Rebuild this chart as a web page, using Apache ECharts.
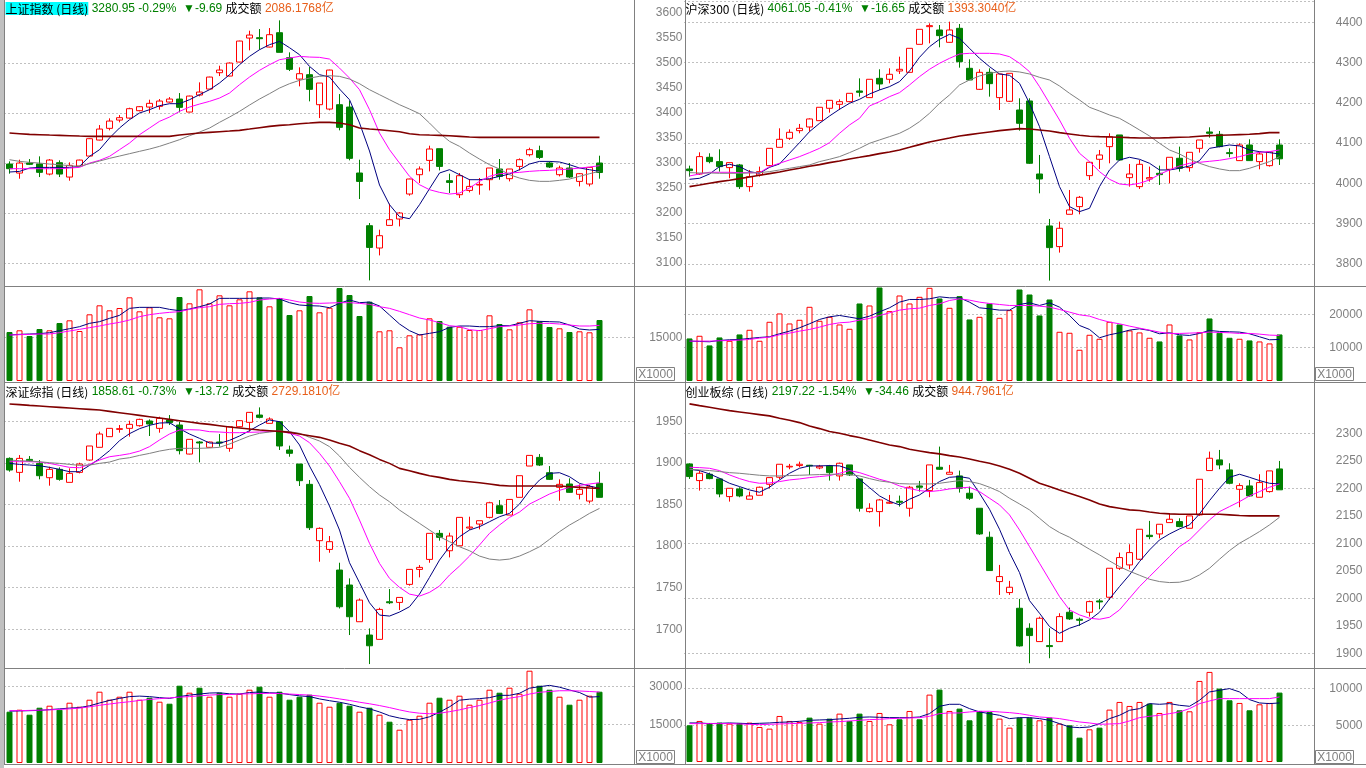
<!DOCTYPE html>
<html lang="zh-CN">
<head>
<meta charset="utf-8">
<title>指数日线</title>
<script src="https://cdn.jsdelivr.net/npm/echarts@6.0.0/dist/echarts.min.js"></script>
<style>
  html, body { margin: 0; padding: 0; background: #fff; }
  #main { width: 1366px; height: 768px; }
</style>
</head>
<body>
<div id="main"></div>
<script>
// 63 day slots per panel, the last 3 stay empty
const days = Array.from({ length: 63 }, (_, i) => 'D' + (i + 1));

// candles: [open, close, low, high]
const shK = [[3297.9,3288.6,3278.6,3303.3],[3279.9,3299.9,3268.6,3306.6],[3299.9,3297.3,3295.9,3307.9],[3297.9,3281.3,3271.9,3313.3],[3277.9,3305.9,3275.3,3307.9],[3300.6,3277.9,3271.9,3305.3],[3271.9,3295.3,3264.6,3301.3],[3293.9,3305.9,3293.3,3306.6],[3313.9,3348.6,3313.3,3349.3],[3345.9,3367.9,3345.3,3375.9],
  [3369.3,3383.9,3365.3,3389.3],[3385.9,3390.6,3381.3,3395.9],[3389.9,3408.6,3388.6,3410.6],[3404.6,3412.6,3403.3,3413.9],[3411.9,3419.3,3399.9,3426.6],[3413.3,3423.9,3406.6,3427.9],[3421.9,3427.9,3420.6,3431.9],[3427.9,3411.3,3401.3,3439.9],[3401.9,3433.9,3401.3,3434.6],[3435.9,3441.9,3433.3,3461.3],
  [3447.9,3471.9,3447.9,3472.6],[3480.6,3485.9,3473.9,3494.6],[3473.9,3499.9,3473.3,3501.3],[3501.9,3543.9,3501.3,3544.6],[3549.9,3555.9,3525.3,3564.6],[3550.6,3548.6,3526.6,3567.9],[3531.9,3556.6,3531.3,3569.9],[3560.6,3521.3,3521.3,3585.3],[3510.6,3487.3,3483.9,3521.3],[3467.9,3478.6,3453.3,3491.3],
  [3476.6,3447.3,3423.3,3491.9],[3416.6,3459.9,3389.9,3459.9],[3407.9,3485.9,3405.3,3486.6],[3416.6,3371.3,3365.3,3437.9],[3411.9,3309.3,3305.3,3424.6],[3280,3263.2,3228,3306.6],[3174.6,3131.2,3065.2,3180],[3130,3154.6,3115.2,3166.6],[3175.2,3186.6,3175.2,3218.6],[3188,3200,3173.2,3202],
  [3238,3268,3234.6,3268.6],[3276.6,3288,3260,3293.2],[3305.2,3328,3283.2,3334.6],[3328.6,3293.2,3285.2,3328.6],[3264.6,3261.2,3240,3278.6],[3236.6,3274.6,3230,3280],[3245.2,3253.2,3241.2,3268],[3256,3257.2,3236.6,3270],[3266.6,3290,3245.2,3290],[3288,3273.2,3266.6,3308],
  [3268.6,3288,3263.2,3288],[3293.2,3306.6,3285.2,3309.2],[3316.6,3326.6,3313.2,3330.6],[3324.6,3311.2,3308,3334.6],[3300,3292,3290,3303.2],[3276.6,3290,3273.2,3294.6],[3290,3272,3270,3300],[3263.2,3278.6,3253.2,3280],[3258,3291.2,3253.2,3291.2],[3300,3280.95,3268.6,3314.6]];
const shMa5 = [3282,3283.2,3290,3291.2,3291.2,3291.2,3291.2,3293.2,3313.2,3326.6,3350,3370,3386.6,3400,3406.6,3414.6,3418.6,3418.6,3426.6,3436.6,3446.6,3460,3476.6,3496.6,3513.2,3526.6,3536.6,3543.2,3530.6,3516.6,3493.2,3476.6,3472,3448,3426.6,3380,3324,3256,3216.6,3192.6,3188.6,3216.6,3248.6,3280,3286.6,3276.6,3266.6,3266.6,3268.6,3273.2,3278,3286.6,3298,3303.2,3303.2,3302,3296.6,3290,3286.6,3283.2];
const shMa10 = [3288.6,3288.6,3288.6,3288.6,3288.6,3288.6,3289.9,3291.3,3299.9,3305.3,3313.3,3326.6,3339.9,3356.6,3369.9,3383.3,3391.9,3403.3,3411.9,3417.9,3423.3,3429.9,3439.9,3456.6,3471.9,3485.3,3496.6,3506.6,3509.9,3513.3,3511.9,3511.3,3507.9,3489.9,3469.9,3446.6,3406.6,3359.9,3326.6,3299.9,3273.3,3256.6,3246.6,3241.3,3237.9,3239.9,3249.9,3263.3,3273.3,3278.6,3279.9,3281.3,3283.3,3284.6,3285.3,3286.6,3287.9,3289.9,3291.9,3294.6];
const shMa20 = [3306.6,3303.3,3301.3,3299.9,3297.9,3296.6,3294.6,3293.3,3298.6,3303.9,3309.3,3313.9,3318.6,3323.3,3327.9,3333.3,3339.9,3346.6,3354.6,3361.9,3369.9,3381.3,3391.9,3403.3,3415.9,3427.9,3438.6,3449.9,3458.6,3465.3,3469.9,3473.3,3474.6,3473.3,3467.9,3458.6,3446.6,3436.6,3426.6,3416.6,3407.9,3398.6,3379.9,3359.9,3343.3,3333.3,3319.9,3307.9,3296.6,3287.9,3276.6,3269.9,3265.3,3263.3,3263.3,3265.3,3267.9,3273.3,3278.6,3283.3];
const shMa60 = [3359.9,3358.6,3357.3,3356.6,3355.9,3355.3,3354.6,3353.9,3353.3,3353.3,3353.3,3353.3,3353.3,3353.3,3353.3,3353.3,3353.3,3355.9,3357.9,3359.9,3361.3,3362.6,3363.9,3365.3,3367.9,3370.6,3373.3,3375.3,3376.6,3378.6,3379.9,3381.3,3381.3,3379.9,3376.6,3369.9,3367.9,3366.6,3364.6,3362.6,3358.6,3356.6,3355.9,3355.3,3354.6,3353.3,3351.9,3351.3,3351.3,3351.3,3351.3,3351.3,3351.3,3351.3,3351.3,3351.3,3351.3,3351.3,3351.3,3351.3];
const shVol = [16817,17400,15444,17846,17400,19906,20832,17160,22891,25980,24264,25054,28726,23921,25294,21862,21519,28829,26667,31471,26667,29412,25980,28039,30785,28726,25637,28486,22651,24264,29172,23578,25157,31918,29515,22308,27216,17057,17400,11566,15684,16027,21519,20592,18636,18636,17503,17503,22548,19562,17743,20146,24607,20489,18533,18087,16817,17057,16714,20935];
const shVma5 = [15787,16016,16130,16244,16588,17274,17961,18647,19791,20363,21507,22537,24939,25283,25283,25283,24596,24138,24710,25511,26426,28371,28371,28371,28371,28486,28486,28142,26884,26083,25855,25740,25168,26655,27799,26884,27113,25740,22651,19562,17274,15787,16359,16931,18418,18876,18876,18647,18647,18990,18990,19791,20706,20477,20363,20249,19219,17846,17503,17732];
const shVma10 = [15787,15901,16016,16130,16130,16588,17160,17732,18304,18876,19562,20134,20935,22079,22766,23223,23566,23795,24596,25168,25511,26312,26541,26655,26998,27799,28142,28371,27799,27113,26770,26655,26770,26884,26884,26655,26312,25511,24939,23909,22766,21621,20935,20020,18990,18647,17617,17274,17961,18647,18876,19219,19677,19791,19791,19562,19219,18876,18876,19104];

const hsK = [[4035.8,4031.7,4016.8,4044.1],[4023.4,4066.5,4021,4077.2],[4064.8,4054.1,4049.9,4074.8],[4054.1,4041.7,4029.2,4084.7],[4039.2,4051.6,4012.7,4051.6],[4045.8,3992,3986.2,4048.3],[3992,4016.8,3979.6,4033.4],[4021,4029.2,4016.8,4041.7],[4044.1,4087.1,4043.3,4087.1],[4089.6,4109.5,4089.6,4136.8],
  [4112,4126.9,4107.9,4134.3],[4131,4136.8,4124.4,4147.6],[4140.1,4160,4128.5,4161.6],[4155.8,4189,4155,4189],[4186.5,4206.3,4175.7,4207.1],[4196.4,4203,4182.3,4208.8],[4203,4223.7,4201.4,4223.7],[4229.5,4226.2,4215.4,4260.9],[4213,4258.5,4213,4258.5],[4260.9,4246.9,4232,4283.3],
  [4258.5,4270.9,4248.5,4285.8],[4279.1,4283.3,4271.7,4314.7],[4275.8,4335.4,4275,4335.4],[4345.3,4382.6,4345.3,4382.6],[4389.2,4391.7,4347.8,4397.5],[4380.9,4366.9,4337.9,4393.3],[4350.3,4380.9,4349.5,4401.6],[4385.1,4302.3,4287.4,4395.8],[4285.8,4256.8,4256.8,4308.1],[4233.6,4275.8,4232,4283.3],
  [4275.8,4247.7,4215.4,4285.8],[4213,4271.7,4182.3,4271.7],[4203.9,4273.3,4202.2,4273.3],[4182.3,4149.2,4131,4211.3],[4204.7,4050,4048.3,4211.3],[4023.4,4011,3975.4,4070.6],[3894.4,3840.6,3758.6,3911.7],[3843.1,3888.6,3828.2,3905.1],[3923.3,3934.1,3923.3,3983.7],[3942.4,3965.5,3923.3,3968.8],
  [4019.3,4052.4,4008.5,4054.1],[4059.9,4070.6,4035.8,4083],[4091.3,4116.1,4049.9,4124.4],[4120.3,4058.2,4056.6,4120.3],[4014.3,4023.4,3992,4048.3],[3992,4047.4,3986.2,4058.2],[4011,4014.3,4004.4,4041.7],[4025.1,4021.8,3996.1,4044.1],[4035,4064.8,4000.3,4064.8],[4062.4,4037.5,4029.2,4091.3],
  [4039.2,4077.2,4029.2,4077.2],[4087.1,4107.8,4076.4,4107.8],[4127.7,4124.4,4113.6,4139.3],[4121.9,4091.3,4089.6,4130.2],[4076.4,4074,4064.8,4087.1],[4056.6,4095.4,4055.7,4099.6],[4095.4,4056.6,4055.7,4109.5],[4054.1,4073.1,4035,4078.9],[4044.1,4078.1,4041.7,4078.9],[4095.4,4061.05,4045.8,4109.5]];
const hsMa5 = [4010.2,4012.7,4023.4,4041.7,4047.4,4041.7,4029.2,4025.1,4040,4048.3,4074.8,4101.2,4128.5,4149.2,4167.4,4184,4198.9,4208.8,4222,4232,4240.3,4252.7,4279.1,4313.1,4339.5,4357.8,4370.2,4360.2,4335.4,4310.6,4289.9,4271.7,4268.4,4248.5,4198.9,4141,4066.5,3992,3942.4,3929.9,3938.2,3992,4033.4,4058.2,4064.8,4059.9,4050,4033.4,4033.4,4037.5,4043.3,4056.6,4087.1,4091.3,4095.4,4093,4083,4078.9,4076.4,4073.1];
const hsMa10 = [4018.5,4023.4,4027.6,4027.6,4027.6,4026.7,4026.7,4026.7,4041.7,4050,4058.2,4066.5,4076.4,4087.1,4101.2,4124.4,4145.1,4161.6,4192.3,4203,4215.4,4225.4,4244.4,4265.1,4283.3,4298.2,4310.6,4321.3,4323,4323,4323,4321.3,4314.7,4298.2,4277.5,4240.3,4198.9,4157.5,4112,4074.8,4054.1,4029.2,4010.2,3998.6,3996.1,4000.3,4008.5,4022.6,4033.4,4043.3,4050,4052.4,4054.9,4057.4,4061.5,4066.5,4073.1,4077.2,4078.9,4083];
const hsMa20 = [4026.7,4025.9,4025.9,4025.1,4025.1,4025.1,4025.9,4026.7,4029.2,4033.4,4037.5,4041.7,4045.8,4054.1,4059.9,4066.5,4076.4,4087.1,4099.6,4107.9,4116.1,4124.4,4136.8,4153.4,4174.1,4198.9,4219.6,4244.4,4256.8,4266.7,4273.4,4277.5,4279.1,4276.7,4271.7,4263.4,4256.8,4241.9,4223.7,4207.1,4189,4179.8,4169.9,4161.6,4147.6,4132.7,4117.8,4099.6,4083,4073.1,4059.9,4050,4041.7,4035.9,4031.7,4031.7,4037.5,4045.8,4054.1,4066.5];
const hsMa60 = [3992,3996.1,4000.3,4004.4,4007.7,4011.9,4016,4020.1,4024.3,4028.4,4033.4,4037.5,4042.5,4046.6,4051.6,4055.7,4060.7,4064.8,4069,4073.9,4078.1,4083,4089.6,4096.3,4102.9,4107.9,4112.8,4117.8,4121.1,4124.4,4127.7,4131,4133.5,4136,4135.2,4132.7,4130.2,4126.1,4122.8,4119.4,4117,4116.1,4115.3,4114.5,4113.6,4112.8,4112.8,4112.8,4113.6,4114.5,4115.3,4117,4118.6,4119.4,4120.3,4121.1,4121.9,4123.6,4126.1,4126.1];
const hsVol = [12780,13580,10680,13080,12080,13980,15380,12080,17780,20280,17280,18380,22280,18080,19280,16980,15680,23280,22680,28080,20980,25680,23280,25280,27980,24780,21980,25480,18480,19280,23280,18980,21280,27480,25980,19680,24480,14780,14480,9380,13880,12680,17780,16980,15180,14580,12980,11880,16980,13680,12480,14680,18780,14480,12980,12680,12180,11880,11280,13980];
const hsVma5 = [11980,11880,11780,12180,12380,12480,12780,13080,13280,14180,14980,15980,17180,18480,19280,19680,19180,18680,19480,20780,21980,23680,24480,24480,24680,25280,24980,24980,23680,21980,21680,21280,21280,22980,23480,22680,23480,22180,19680,16680,15480,12980,13880,14480,15280,15680,15180,14180,14480,13880,13680,14280,15180,14880,14780,14680,14180,13280,12380,12480];
const hsVma10 = [11980,11980,11980,12080,12180,12280,12480,12880,13180,13880,14380,14980,15480,16180,16980,17480,17680,18280,18780,19680,20480,21280,21680,21880,22680,23180,24180,24680,24280,23680,23280,22980,22680,22680,22680,22480,22180,21480,20680,19880,19480,18480,17680,17180,16480,15880,15280,14680,14280,14280,14380,14480,14680,14580,14480,14280,14280,14080,13780,13680];

const szK = [[1905.4,1891.4,1889.4,1906.6],[1888.6,1905.4,1877.4,1909.4],[1904.2,1902.6,1901.4,1908.2],[1899.4,1884.6,1880.2,1903.4],[1882.2,1892.2,1872.6,1895.4],[1892.2,1880.2,1878.6,1894.6],[1876.6,1887.4,1876.6,1893.4],[1888.6,1898.6,1887.4,1900.2],[1903.4,1920.3,1902.6,1920.3],[1918.7,1934.7,1918.7,1937.5],
  [1931.5,1941.5,1931.5,1941.5],[1940.3,1941.1,1936.3,1945.5],[1941.5,1946.3,1931.5,1950.7],[1944.7,1952.3,1943.5,1953.1],[1950.3,1946.7,1932.3,1952.3],[1941.5,1953.5,1936.3,1955.5],[1951.5,1948.3,1945.5,1957.5],[1945.5,1914.7,1910.2,1949.5],[1910.6,1928.3,1910.2,1928.3],[1925.1,1923.9,1900.6,1926.3],
  [1918.7,1925.1,1918.3,1925.5],[1925.1,1923.9,1919.5,1934.7],[1917.5,1943.5,1913.4,1943.5],[1943.5,1950.7,1942.7,1951.5],[1948.7,1960.7,1937.5,1961.1],[1957.5,1954.7,1953.5,1966.7],[1947.5,1952.7,1947.5,1954.7],[1949.5,1920.3,1915.5,1949.5],[1915.5,1911.5,1907.4,1920.7],[1898.6,1878.6,1872.2,1898.6],
  [1874.2,1822.1,1819.3,1879.4],[1806.5,1821.3,1781.2,1822.5],[1796,1805.3,1792,1812.1],[1771.2,1727.1,1725,1780],[1753.2,1715.1,1693.1,1761.2],[1709.1,1735.1,1709.1,1737.1],[1693.1,1680.2,1658.2,1701.1],[1687.9,1723.9,1687.9,1725.9],[1733.1,1731.9,1730.3,1748.4],[1732.3,1738.3,1723.1,1738.3],
  [1754,1772,1752.4,1772],[1772,1774.4,1762.4,1777.2],[1784,1815.3,1780,1815.3],[1815.3,1810.5,1806.5,1819.3],[1794.4,1812.1,1786.4,1816.1],[1800.4,1834.5,1800.4,1834.5],[1821.7,1822.9,1819.3,1835.3],[1826.5,1830.5,1820.1,1830.5],[1834.5,1852.1,1833.3,1853.3],[1848.5,1839.3,1838.5,1855.3],
  [1837.3,1856.1,1837.3,1856.1],[1858.6,1884.6,1858.6,1884.6],[1896.2,1909,1896.2,1909],[1906.6,1897.4,1896.2,1910.6],[1888.2,1880.2,1879.4,1896.2],[1870.6,1874.2,1854.5,1880.2],[1874.6,1864.6,1864.2,1881.4],[1862.2,1868.2,1856.1,1874.2],[1854.1,1871.4,1851.3,1873.4],[1875.4,1858.61,1858.6,1889.4]];
const szMa5 = [1899.4,1898.2,1897.4,1896.6,1894.6,1892.2,1889.4,1889.4,1897,1905,1914.7,1926.7,1935.1,1941.1,1945.1,1947.9,1948.3,1941.1,1934.7,1929.5,1923.9,1923.5,1927.1,1932.3,1938.7,1945.5,1951.5,1949.5,1937.5,1921.5,1896.2,1873.8,1848.1,1819.3,1780,1756,1731.9,1717.1,1715.9,1720.7,1727.1,1742.3,1762.4,1783.2,1799.2,1811.3,1819.3,1823.3,1829.3,1835.3,1839.3,1850.5,1866.6,1879.4,1887.4,1888.2,1883.4,1875.4,1872.2,1869.4];
const szMa10 = [1901.4,1901.4,1901.4,1901,1899.4,1897,1894.6,1894.2,1898.2,1903.4,1907.4,1909,1911,1914.2,1919.5,1927.5,1934.7,1939.5,1939.9,1939.5,1937.5,1937.1,1936.3,1936.3,1936.7,1937.1,1937.5,1938.3,1935.5,1932.3,1924.3,1911.4,1896.2,1877.4,1857.4,1831.3,1803.3,1779.2,1761.2,1750.4,1742.3,1739.9,1744.4,1752,1765.2,1776,1788,1801.3,1815.3,1825.3,1834.5,1840.9,1850.5,1856.5,1862.6,1867,1870.6,1873,1874.6,1876.2];
const szMa20 = [1903.4,1902.6,1902.2,1901.4,1900.2,1899.4,1898.2,1897,1897.4,1899.4,1901,1904.6,1906.2,1909,1911.4,1914.2,1916.3,1917.5,1917.5,1917.5,1917.9,1918.7,1922.7,1927.5,1932.3,1935.5,1937.1,1938.3,1937.5,1935.5,1930.7,1926.3,1919.5,1908.2,1894.6,1882.6,1871.4,1861.4,1853.3,1843.3,1835.3,1827.3,1819.3,1811.3,1805.3,1799.2,1794.4,1788,1784.4,1783.2,1784.4,1788,1793.2,1799.2,1808.1,1817.3,1825.3,1832.1,1839.3,1845.3];
const szMa60 = [1970.8,1970,1969.1,1968.3,1967.5,1966.7,1965.9,1965.1,1964.3,1963.5,1961.9,1960.3,1958.7,1957.1,1955.5,1953.9,1952.3,1950.7,1949.1,1947.5,1946.3,1944.7,1943.1,1941.9,1940.7,1939.5,1938.7,1937.9,1936.7,1934.7,1932.7,1930.7,1927.5,1923.5,1920.3,1914.7,1909.8,1904.2,1899.4,1893.4,1890.6,1887.4,1884.6,1882.6,1880.2,1878.6,1877.4,1876.2,1874.6,1873,1872.2,1872.2,1872.2,1872.2,1872.2,1872.2,1871.4,1870.6,1869.8,1869.4];
const szVol = [20089,20873,18914,21655,22439,20873,23613,22047,24788,27921,24788,25963,27921,24788,25572,24005,23222,30271,27529,29487,25963,27529,25963,27138,28704,29879,25963,27921,24788,25963,26746,23613,22047,23613,22439,20089,21655,18914,16173,13040,16956,18523,23613,25572,24788,26355,22830,24788,28704,27529,29487,27138,36145,30271,28704,25963,22830,24788,26355,27921];
const szVma5 = [20300,20400,20500,20600,20900,21200,21500,21700,22400,23500,24500,25300,26000,26200,26000,25600,25300,26000,26600,27000,27400,27500,27100,27000,27600,27800,27500,27400,26800,26300,26000,25100,24400,23800,23000,22000,21200,20000,18500,17600,17000,17100,18100,19900,22000,24600,25000,25200,25600,26500,26500,27300,29300,29900,30400,29700,28600,27600,25800,26000];
const szVma10 = [20500,20500,20600,20700,20800,21000,21200,21500,22000,22600,23100,23600,24000,24500,24900,25200,25500,25800,26000,26300,26600,26800,26800,27000,27100,27200,27300,27200,27000,26800,26600,26200,25700,25100,24500,23800,23200,22500,21700,20800,20000,19500,19300,19500,20100,20800,21700,22500,23500,24600,25400,26000,27000,27700,28000,28300,28300,28200,28000,27800];

const cyK = [[2244.3,2221.3,2217,2245.5],[2214,2227.3,2195.8,2232.2],[2225.5,2217.6,2216.4,2228.5],[2217,2189.7,2183.7,2218.2],[2184.9,2200,2175.8,2200],[2198.8,2186.1,2183.7,2201.9],[2180.1,2186.1,2180.1,2194],[2187.3,2201.9,2187.3,2203.1],[2207.3,2219.4,2200,2219.4],[2220.1,2243.7,2216.4,2243.7],
  [2238.8,2240,2234.6,2244.3],[2241.3,2243.7,2238.2,2248.5],[2241.9,2240.7,2224.3,2242.5],[2237,2240,2234.6,2242.5],[2240.7,2228.5,2214,2242.5],[2222.5,2245.5,2214,2246.7],[2242.5,2224.3,2222.5,2242.5],[2217,2163.7,2157.6,2217],[2157.6,2163.7,2155.8,2172.8],[2157.6,2178.8,2130.4,2180.7],
  [2172.8,2174.6,2171.6,2187.9],[2176.4,2174.6,2166.7,2186.7],[2163.7,2201.9,2148.5,2204.3],[2204.3,2201.9,2194,2213.4],[2195.8,2242.5,2183.7,2242.5],[2238.2,2234.6,2233.4,2275.8],[2225.5,2229.1,2225.5,2242.5],[2222.5,2200,2192.2,2232.2],[2191,2181.9,2178.8,2203.1],[2163.7,2117,2115.2,2163.7],
  [2111,2050.4,2050.4,2121.3],[2030.4,2039.5,2006.1,2060.7],[2010.4,2020.1,2006.1,2031.6],[1981.9,1913.4,1912.2,1998.9],[1945.5,1932.2,1881.9,1954.6],[1921.3,1963.7,1921.3,1966.7],[1914,1912.2,1891,1945.5],[1921.3,1966.7,1921.3,1972.8],[1974.6,1962.5,1960.7,1983.1],[1961.9,1960.1,1949.8,1964.9],
  [1974.6,1994,1966.7,1995.8],[1995.2,1993.4,1980.1,1998.9],[2001.9,2054.6,1997,2054.6],[2054.6,2074,2051.6,2083.1],[2060.7,2083.1,2052.8,2098.2],[2071,2125.5,2069.8,2125.5],[2114.6,2112.2,2107.3,2140.7],[2117,2134.6,2109.1,2134.6],[2137.6,2143.7,2137.6,2154.6],[2139.4,2130.4,2129.2,2145.5],
  [2127.3,2149.8,2127.3,2149.8],[2151.6,2216.4,2149.8,2216.4],[2232.2,2254.6,2232.2,2266.7],[2251.6,2242.5,2234.6,2269.7],[2233.4,2209.1,2207.3,2245.5],[2198.2,2204.9,2165.5,2209.1],[2204.3,2186.1,2184.9,2215.2],[2183.7,2210.4,2183.7,2225.5],[2194,2231.6,2192.2,2231.6],[2235.2,2197.22,2197,2249.7]];
const cyMa5 = [2234.6,2232.2,2226.1,2218.2,2209.1,2203.1,2197,2192.8,2201.9,2215.2,2227.3,2236.4,2240.7,2240.7,2241.3,2240.7,2234.6,2216.4,2201.3,2186.1,2176.4,2169.8,2180.1,2187.9,2200,2212.2,2220,2221.3,2218.2,2191,2161.9,2125.5,2083.1,2046.7,1995.8,1972.8,1948.6,1936.4,1945.5,1951.6,1960.7,1974.6,1998.9,2021.3,2042.5,2066.7,2087.9,2106.1,2117,2126.1,2133.4,2153.4,2177.6,2200,2220,2225.5,2220,2214,2209.1,2207.9];
const cyMa10 = [2238.2,2237.6,2236.4,2232.2,2224.3,2217.6,2212.2,2209.1,2209.7,2212.2,2215.2,2217,2219.4,2221.3,2223.1,2227.3,2232.2,2228.5,2222.5,2216.4,2211.6,2204.3,2199.4,2195.8,2194,2195.8,2198.8,2200.7,2201.9,2194,2181.9,2169.8,2151.6,2124.3,2094,2063.7,2033.4,2003.1,1978.9,1969.8,1963.7,1961.9,1965.5,1978.9,2000.1,2021.3,2039.5,2057.6,2075.8,2094,2106.1,2124.3,2142.5,2157.6,2166.7,2175.8,2186.1,2194,2201.9,2207.9];
const cyMa20 = [2234.6,2233.4,2232.2,2230.4,2228.5,2227.3,2225.5,2223.7,2222.5,2222.5,2223.1,2223.7,2224.3,2224.9,2225.5,2225.5,2224.9,2222.5,2217.6,2213.4,2211,2208.5,2207.9,2207.9,2207.9,2209.1,2211.6,2214,2212.2,2208.5,2201.9,2194,2181.9,2171.6,2160.7,2145.5,2130.4,2119.5,2111,2100.1,2089.2,2078.9,2067.9,2057.6,2049.2,2041.9,2034.6,2030.4,2028.6,2029.2,2033.4,2042.5,2054.6,2071,2086.7,2100.1,2110.4,2121.3,2133.4,2147.3];
const cyMa60 = [2353.4,2350.3,2347.3,2344.3,2341.2,2338.8,2336.4,2334,2331.6,2327.3,2323.7,2319.4,2313.4,2308.5,2303.1,2300,2295.8,2292.2,2287.9,2283.1,2278.8,2275.8,2270.9,2267.9,2264.9,2262.5,2259.4,2257,2253.4,2249.1,2245.5,2240.7,2234.6,2227.3,2218.2,2209.1,2203.1,2197,2191,2184.9,2178.8,2171.6,2166.7,2163.7,2160.7,2159.5,2157,2154.6,2153.4,2152.8,2152.8,2152.8,2152.8,2152.8,2151.6,2150.4,2149.8,2149.8,2149.8,2149.8];
const cyVol = [5000,5590,5318,5363,5227,5318,5363,4772,4545,6272,5590,5454,6045,5227,5909,6590,5590,6590,5590,6681,5136,5818,6954,5818,9181,9863,6954,7272,5681,6954,6818,5909,4681,6045,6045,5681,6045,5227,5000,3318,4454,4681,7136,8181,7636,8181,7954,6681,8181,7045,6908,11044,12272,9999,8408,8045,7045,7863,8045,9454];
const cyVma5 = [5318,5318,5227,5272,5318,5272,5227,5272,5318,5409,5454,5545,5681,5727,5772,5863,5954,6090,6136,6090,6045,6045,6045,6136,6590,7590,7863,7863,7272,6818,6590,6363,5909,6045,6045,5909,5681,5227,4772,4681,4772,5227,5909,6363,7045,7272,7954,7863,7954,7727,7590,8408,9545,9772,9999,9545,8499,8045,7954,8045];
const cyVma10 = [5227,5227,5227,5227,5227,5181,5136,5090,5136,5181,5227,5272,5318,5363,5454,5499,5590,5681,5772,5818,5909,5954,5999,6045,6227,6590,6681,6681,6818,6908,6908,6818,6727,6590,6363,6136,6045,5909,5681,5454,5318,5136,5181,5227,5590,6045,6227,6363,6590,6818,7272,7954,8317,8636,8636,8636,8636,8636,8636,8863];

const GRID = '#808080';
const NO = 'rgba(0,0,0,0)';
const maColors = ['#000080', '#ff00ff', '#808080', '#800000'];

const panels = [
  {
    head: ['上证指数 (日线)', '3280.95 -0.29%', '▼-9.69', '2086.1768亿'], active: true,
    k: shK, ma: [shMa5, shMa10, shMa20, shMa60], vol: shVol, vma: [shVma5, shVma10],
    left: 4.5, top: 1, pTop: 1, pH: 287, pMin: 3050, pMax: 3624, pInt: 50,
    pLines: [NO, GRID, NO, GRID, NO, GRID, NO, GRID, NO, GRID, NO, NO, NO],
    pShow: v => v >= 3100 && v <= 3600,
    vTop: 287, vH: 94, vMax: 32268, vInt: 15000, vLines: [NO, GRID, NO, NO], vShow: v => v === 15000
  },
  {
    head: ['沪深300 (日线)', '4061.05 -0.41%', '▼-16.65', '1393.3040亿'],
    k: hsK, ma: [hsMa5, hsMa10, hsMa20, hsMa60], vol: hsVol, vma: [hsVma5, hsVma10],
    left: 684.5, top: 1, pTop: 1, pH: 283.1, pMin: 3750, pMax: 4452.9, pInt: 50,
    pLines: [NO, GRID],
    pShow: v => v % 100 === 0 && v >= 3800 && v <= 4400,
    vTop: 287, vH: 94, vMax: 28228, vInt: 10000, vLines: [NO, GRID, GRID, NO], vShow: v => v === 10000 || v === 20000
  },
  {
    head: ['深证综指 (日线)', '1858.61 -0.73%', '▼-13.72', '2729.1810亿'],
    k: szK, ma: [szMa5, szMa10, szMa20, szMa60], vol: szVol, vma: [szVma5, szVma10],
    left: 4.5, top: 384, pTop: 384, pH: 286.9, pMin: 1650, pMax: 1994.8, pInt: 50,
    pLines: [NO, GRID, GRID, GRID, GRID, GRID, GRID, NO],
    pShow: v => v >= 1700 && v <= 1950,
    vTop: 669, vH: 94, vMax: 36815, vInt: 15000, vLines: [NO, GRID, GRID, NO], vShow: v => v === 15000 || v === 30000
  },
  {
    head: ['创业板综 (日线)', '2197.22 -1.54%', '▼-34.46', '944.7961亿'],
    k: cyK, ma: [cyMa5, cyMa10, cyMa20, cyMa60], vol: cyVol, vma: [cyVma5, cyVma10],
    left: 684.5, top: 384, pTop: 384, pH: 296.8, pMin: 1850, pMax: 2389.6, pInt: 50,
    pLines: [NO, GRID, NO, GRID, NO, GRID, NO, GRID, NO, GRID, NO, NO],
    pShow: v => v >= 1900 && v <= 2300,
    vTop: 669, vH: 93, vMax: 12670, vInt: 5000, vLines: [NO, GRID, GRID, NO], vShow: v => v === 5000 || v === 10000
  }
];

function valueAxis(gridIndex, min, max, interval, lines, show) {
  return {
    type: 'value', gridIndex, position: 'right', min, max, interval,
    axisLine: { show: false }, axisTick: { show: false },
    axisLabel: {
      margin: 48, align: 'right', color: '#808080', fontSize: 12,
      fontFamily: 'Liberation Sans, Arial, sans-serif',
      formatter: v => (show(v) ? String(v) : '')
    },
    splitLine: { show: true, lineStyle: { color: lines, width: 1, type: [1, 3] } }
  };
}

function volBars(vol, k) {
  return vol.map((v, i) => {
    const up = k[i][1] >= k[i][0];
    return {
      value: v,
      itemStyle: up
        ? { color: '#ffffff', borderColor: '#ff0000', borderWidth: 1 }
        : { color: '#008000', borderColor: '#008000', borderWidth: 1 }
    };
  });
}

const richBase = { fontSize: 12, lineHeight: 15, fontWeight: 'normal' };
const grid = [], xAxis = [], yAxis = [], series = [], title = [];
panels.forEach((p, i) => {
  const gp = i * 2, gv = i * 2 + 1;
  grid.push({ left: p.left, top: p.pTop, width: 630, height: p.pH, show: false });
  grid.push({ left: p.left, top: p.vTop, width: 630, height: p.vH, show: false });
  [gp, gv].forEach(g => xAxis.push({ type: 'category', gridIndex: g, data: days, boundaryGap: true, show: false }));
  yAxis.push(valueAxis(gp, p.pMin, p.pMax, p.pInt, p.pLines, p.pShow));
  yAxis.push(valueAxis(gv, 0, p.vMax, p.vInt, p.vLines, p.vShow));

  series.push({
    type: 'candlestick', xAxisIndex: gp, yAxisIndex: gp, data: p.k, barWidth: 6,
    itemStyle: { color: '#ffffff', color0: '#008000', borderColor: '#ff0000', borderColor0: '#008000', borderWidth: 1 }
  });
  p.ma.forEach((m, j) => series.push({
    type: 'line', xAxisIndex: gp, yAxisIndex: gp, data: m, symbol: 'none', silent: true,
    lineStyle: { color: maColors[j], width: j === 3 ? 1.6 : 1 }
  }));
  series.push({ type: 'bar', xAxisIndex: gv, yAxisIndex: gv, data: volBars(p.vol, p.k), barWidth: 6 });
  p.vma.forEach((m, j) => series.push({
    type: 'line', xAxisIndex: gv, yAxisIndex: gv, data: m, symbol: 'none', silent: true,
    lineStyle: { color: maColors[j], width: 1 }
  }));

  title.push({
    left: p.left + 1, top: p.top, padding: 0,
    text: '{n|' + p.head[0] + '} {g|' + p.head[1] + '}  {g|' + p.head[2] + '} {k|成交额} {o|' + p.head[3] + '}',
    textStyle: {
      fontWeight: 'normal', fontSize: 12,
      rich: {
        n: Object.assign({ color: '#000', fontFamily: 'Noto Sans CJK SC', padding: [1, 0, 0, 0],
                           backgroundColor: p.active ? '#00ffff' : 'transparent' }, richBase),
        g: Object.assign({ color: '#008000', fontFamily: 'Liberation Sans, Noto Sans CJK SC' }, richBase),
        k: Object.assign({ color: '#000', fontFamily: 'Noto Sans CJK SC' }, richBase),
        o: Object.assign({ color: '#e8601c', fontFamily: 'Liberation Sans, Noto Sans CJK SC' }, richBase)
      }
    }
  });
});

// frame lines and the X1000 unit boxes
const graphic = [{ type: 'rect', shape: { x: 0, y: 0, width: 4, height: 768 }, style: { fill: '#c0c0c0' } }];
[286.5, 382.5, 668.5, 764.5].forEach(y => graphic.push({
  type: 'line', shape: { x1: 4, y1: y, x2: 1366, y2: y }, style: { stroke: GRID, lineWidth: 1 }
}));
[4.5, 634.5, 685.5, 1314.5].forEach(x => graphic.push({
  type: 'line', shape: { x1: x, y1: 0, x2: x, y2: 765 }, style: { stroke: GRID, lineWidth: 1 }
}));
[[636.5, 367.5], [1315.5, 367.5], [636.5, 750.5], [1315.5, 750.5]].forEach(([x, y]) => {
  graphic.push({ type: 'rect', shape: { x, y, width: 38, height: 13 }, style: { fill: '#fff', stroke: GRID, lineWidth: 1 } });
  graphic.push({ type: 'text', x: x + 19, y: y + 7, style: { text: 'X1000', fill: GRID, font: '12px Liberation Sans', align: 'center', verticalAlign: 'middle' } });
});

const chart = echarts.init(document.getElementById('main'));
chart.setOption({
  backgroundColor: '#ffffff',
  animation: false,
  title, grid, xAxis, yAxis, series, graphic
});
</script>
</body>
</html>
